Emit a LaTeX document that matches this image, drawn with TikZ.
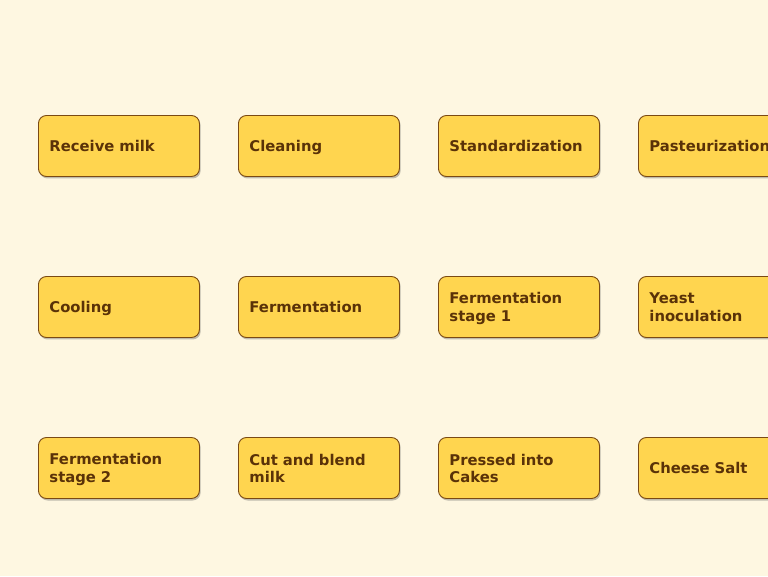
\documentclass[tikz,border=0pt]{standalone}
\usepackage{fontspec}
\setmainfont{DejaVu Sans}
\usetikzlibrary{shadows}
\definecolor{bgc}{HTML}{FEF7E1}
\definecolor{boxfill}{HTML}{FFD54F}
\definecolor{boxline}{HTML}{7A4A14}
\definecolor{txt}{HTML}{5A3208}
\newcommand\boxstrut{\rule[-3pt]{0pt}{17.5pt}}
\tikzset{
  stepbox/.style={draw=boxline, line width=0.9pt, fill=boxfill, rounded corners=8pt,
    minimum height=61pt, text width=139pt, inner xsep=11pt, inner ysep=2pt, align=left,
    anchor=west, text=txt, font=\fontsize{14.8}{17.5}\selectfont\bfseries,
    execute at begin node=\boxstrut, execute at end node=\boxstrut,
    drop shadow={shadow xshift=1.2pt, shadow yshift=-2pt, opacity=0.35, fill=black!70}}
}
\begin{document}
\begin{tikzpicture}[x=1pt,y=1pt]
\fill[bgc] (0,0) rectangle (768,576);
\useasboundingbox (0,0) rectangle (768,576);
\clip (0,0) rectangle (768,576);
% row 1
\node[stepbox] (a1) at (38,430) {Receive milk};
\node[stepbox] (a2) at (238,430) {Cleaning};
\node[stepbox] (a3) at (438,430) {Standardization};
\node[stepbox] (a4) at (638,430) {Pasteurization};
% row 2
\node[stepbox] (b1) at (38,269) {Cooling};
\node[stepbox] (b2) at (238,269) {Fermentation};
\node[stepbox] (b3) at (438,269) {Fermentation\\stage 1};
\node[stepbox] (b4) at (638,269) {Yeast\\inoculation};
% row 3
\node[stepbox] (c1) at (38,108) {Fermentation\\stage 2};
\node[stepbox] (c2) at (238,108) {Cut and blend\\milk};
\node[stepbox] (c3) at (438,108) {Pressed into\\Cakes};
\node[stepbox] (c4) at (638,108) {Cheese Salt};
\end{tikzpicture}
\end{document}
